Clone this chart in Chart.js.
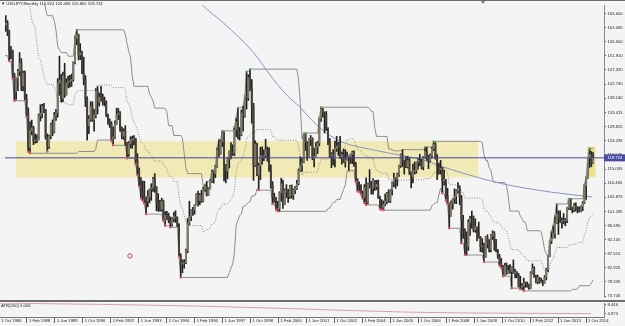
<!DOCTYPE html>
<html lang="en">
<head>
<meta charset="UTF-8">
<title>USDJPY, Monthly</title>
<script src="https://cdn.jsdelivr.net/npm/chart.js"></script>
<style>
  html, body { margin:0; padding:0; background:#f4f4f4; }
  #wrap { position:relative; width:625px; height:326px; overflow:hidden; background:#f4f4f4; }
  canvas { position:absolute; left:0; }
  #mainChart { top:0; }
  #atrChart { top:302px; }
  .rule { position:absolute; left:0; width:625px; background:#6e6e6e; }
  .txt { position:absolute; white-space:nowrap; font:6px "Liberation Sans", "DejaVu Sans", sans-serif; color:#1e1e1e; transform:scale(0.7); transform-origin:0 0; }
  #shift { position:absolute; left:481px; top:1px; width:0; height:0; border-left:2.5px solid transparent; border-right:2.5px solid transparent; border-top:3px solid #7a7a7a; }
</style>
</head>
<body>
<div id="wrap">
  <canvas id="mainChart" width="625" height="302"></canvas>
  <canvas id="atrChart" width="625" height="24"></canvas>
  <div class="rule" style="top:0;height:1px"></div>
  <div class="rule" style="top:300px;height:2px"></div>
  <div id="shift"></div>
  <div class="txt" id="head" style="left:1px;top:1px"></div>
  <div class="txt" id="atrHead" style="left:1px;top:303px"></div>
</div>
<script>
// monthly USDJPY bars, index 0 = Oct 1986 ... 340 = Feb 2015
const opens = [
  154.0, 162.0, 162.6,
  160.1, 153.5, 153.4, 145.8, 140.3, 144.5, 146.9, 149.5, 142.2, 146.3, 138.0, 133.0,
  122.0, 127.5, 128.5, 124.2, 124.5, 124.6, 132.4, 133.2, 135.5, 134.4, 125.4, 122.4,
  125.8, 129.6, 127.0, 132.5, 133.4, 143.0, 144.0, 138.0, 145.5, 139.3, 143.0, 143.6,
  143.8, 144.2, 149.8, 157.6, 158.8, 152.2, 152.9, 146.3, 144.1, 137.9, 129.2, 131.3,
  135.4, 131.1, 132.5, 140.5, 136.9, 138.5, 138.2, 137.2, 136.9, 132.8, 130.5, 129.8,
  124.9, 125.5, 129.8, 132.8, 133.3, 128.3, 125.8, 127.3, 123.3, 120.0, 123.4, 124.4,
  124.8, 124.9, 117.8, 114.9, 111.2, 107.3, 106.5, 104.8, 104.6, 106.1, 108.6, 109.0,
  111.9, 109.1, 104.0, 102.7, 102.0, 104.5, 98.6, 100.0, 99.8, 98.5, 97.1, 98.9,
  99.7, 99.0, 97.0, 86.6, 84.2, 84.5, 84.6, 88.5, 97.5, 99.7, 101.8, 101.7,
  103.4, 107.0, 104.8, 106.5, 104.7, 108.5, 109.5, 106.8, 108.6, 111.4, 114.2, 113.6,
  115.9, 121.3, 120.2, 124.0, 126.9, 116.4, 114.5, 118.5, 120.9, 120.6, 120.3, 127.9,
  130.5, 127.1, 126.3, 133.3, 132.3, 138.7, 138.2, 144.8, 141.5, 135.7, 116.3, 123.2,
  113.1, 116.2, 119.5, 118.9, 119.4, 121.3, 121.0, 114.7, 109.7, 106.1, 104.5, 102.0,
  102.2, 107.3, 110.3, 103.6, 108.2, 107.6, 106.2, 109.5, 106.6, 108.2, 108.8, 110.3,
  114.6, 116.3, 117.3, 126.3, 123.6, 118.8, 124.7, 125.0, 118.7, 119.3, 122.3, 123.5,
  131.6, 134.7, 133.3, 132.7, 128.4, 124.2, 119.3, 119.8, 118.4, 121.8, 122.5, 122.6,
  118.8, 119.8, 117.6, 118.1, 119.0, 119.2, 119.8, 120.5, 116.7, 111.5, 110.0, 109.6,
  107.2, 105.9, 109.1, 104.2, 110.4, 109.4, 108.9, 111.4, 109.3, 110.1, 105.8, 103.1,
  102.6, 103.6, 104.6, 107.2, 104.8, 108.2, 110.8, 112.3, 111.7, 113.3, 116.2, 119.7,
  117.9, 117.2, 115.8, 117.8, 113.8, 112.5, 114.4, 114.6, 117.4, 118.0, 116.9, 115.8,
  119.0, 120.7, 118.6, 117.8, 119.5, 121.7, 123.2, 118.6, 115.8, 114.9, 115.3, 111.2,
  111.7, 106.4, 103.8, 99.7, 103.9, 105.5, 106.2, 108.0, 108.8, 106.0, 98.5, 95.5,
  90.7, 89.9, 97.6, 98.9, 98.6, 95.3, 96.3, 94.7, 93.0, 89.8, 90.0, 86.3,
  93.0, 90.3, 88.9, 93.5, 94.1, 91.2, 88.4, 86.4, 84.2, 83.5, 80.4, 83.6,
  81.1, 82.0, 81.8, 83.1, 81.2, 81.5, 80.5, 76.7, 76.6, 77.0, 78.0, 77.6,
  76.9, 76.2, 81.2, 82.9, 80.0, 78.3, 79.8, 78.1, 78.4, 77.9, 79.8, 82.4,
  86.7, 91.7, 92.6, 94.2, 97.5, 100.4, 99.1, 97.9, 98.2, 98.3, 98.4, 102.4,
  105.3, 102.0, 101.8, 103.2, 102.2, 101.8, 101.3, 102.8, 104.1, 109.6, 112.3, 118.6,
  119.8, 116.924
];
const highs = [
  163.0, 165.0, 163.4,
  160.3, 155.0, 153.8, 146.3, 144.7, 147.5, 153.0, 151.0, 147.0, 147.0, 139.4, 135.0,
  130.5, 131.0, 129.0, 126.5, 126.2, 133.0, 136.0, 136.1, 136.5, 134.5, 126.5, 126.1,
  130.0, 131.1, 133.5, 134.5, 144.5, 151.8, 145.9, 146.6, 149.5, 144.5, 145.3, 145.6,
  146.0, 150.0, 158.4, 160.4, 159.0, 155.9, 153.5, 151.5, 145.5, 138.6, 132.5, 137.0,
  137.0, 134.5, 141.3, 141.9, 139.8, 142.0, 139.5, 138.5, 137.3, 133.0, 131.4, 130.5,
  128.8, 130.8, 134.9, 134.8, 133.8, 128.8, 128.2, 129.2, 123.8, 124.0, 125.6, 125.8,
  126.0, 125.1, 120.1, 115.5, 112.4, 111.2, 111.1, 106.0, 108.1, 108.6, 110.3, 112.4,
  113.6, 109.4, 107.1, 104.9, 105.6, 105.0, 101.2, 101.3, 100.7, 99.5, 99.3, 101.0,
  101.5, 99.5, 97.3, 87.5, 85.5, 85.6, 89.0, 99.0, 104.6, 101.9, 102.6, 103.5,
  107.1, 107.9, 107.1, 108.2, 109.2, 109.9, 111.0, 109.0, 111.7, 114.7, 114.4, 116.2,
  122.0, 124.7, 124.5, 127.5, 127.2, 116.6, 118.8, 121.0, 123.7, 123.0, 128.8, 131.7,
  135.0, 128.6, 134.3, 135.6, 139.0, 146.8, 145.8, 147.6, 144.2, 136.5, 124.3, 123.5,
  117.0, 122.2, 122.3, 121.3, 124.8, 122.3, 122.0, 116.4, 111.0, 107.2, 105.9, 104.6,
  107.7, 112.1, 111.5, 108.6, 110.0, 108.5, 109.8, 109.9, 108.6, 109.4, 111.4, 115.1,
  119.1, 118.7, 126.6, 126.8, 124.0, 125.0, 126.0, 125.3, 121.9, 123.7, 124.1, 131.8,
  135.2, 134.8, 133.7, 133.8, 128.5, 125.0, 120.4, 121.4, 124.2, 125.7, 123.8, 125.7,
  120.6, 121.6, 121.4, 120.6, 119.4, 120.0, 120.9, 121.0, 117.3, 112.0, 110.9, 110.0,
  107.9, 110.0, 112.2, 110.5, 114.9, 111.1, 112.0, 111.4, 111.4, 111.5, 106.3, 105.1,
  104.7, 107.0, 107.5, 108.3, 108.4, 110.9, 113.8, 112.3, 113.8, 116.4, 120.0, 121.4,
  118.0, 119.1, 119.2, 118.7, 114.2, 116.7, 117.4, 117.4, 118.4, 119.9, 118.3, 119.2,
  122.2, 122.2, 119.6, 120.0, 122.2, 124.1, 123.7, 119.8, 117.0, 117.9, 115.6, 114.7,
  111.7, 108.8, 104.0, 104.7, 105.5, 108.6, 108.4, 110.7, 109.6, 106.5, 100.0, 95.6,
  94.6, 98.6, 99.7, 101.4, 99.8, 98.9, 96.0, 97.8, 93.1, 92.4, 91.0, 93.1,
  93.7, 92.1, 93.8, 95.0, 94.7, 92.2, 88.9, 87.3, 86.0, 83.7, 84.4, 84.5,
  83.7, 84.0, 83.3, 85.5, 82.4, 81.7, 81.1, 80.2, 77.9, 79.6, 78.3, 78.3,
  77.6, 81.7, 84.2, 83.3, 80.6, 80.6, 79.8, 79.6, 78.9, 80.4, 82.8, 86.8,
  91.8, 94.8, 96.7, 99.9, 103.7, 101.5, 101.5, 99.2, 100.6, 99.0, 102.5, 105.4,
  105.4, 102.7, 103.8, 104.1, 102.8, 102.8, 103.1, 104.5, 110.1, 112.5, 118.9, 121.8,
  120.8, 120.466
];
const lows = [
  153.5, 159.9, 158.5,
  150.2, 151.0, 144.5, 137.3, 137.7, 140.6, 145.5, 140.6, 140.5, 137.6, 132.0, 120.7,
  120.2, 126.2, 123.0, 123.5, 123.7, 124.5, 130.7, 131.7, 133.4, 124.8, 120.8, 121.8,
  124.9, 125.9, 126.8, 130.9, 132.0, 139.1, 136.9, 137.0, 138.4, 139.1, 141.5, 141.7,
  142.0, 143.7, 149.3, 155.5, 150.6, 150.7, 146.1, 142.5, 135.4, 124.5, 126.6, 130.6,
  130.6, 127.4, 131.7, 133.0, 135.6, 137.2, 135.9, 135.6, 132.1, 129.6, 128.6, 124.2,
  122.8, 125.0, 129.6, 131.2, 127.3, 124.9, 124.7, 122.8, 118.6, 119.2, 121.9, 121.8,
  122.9, 116.6, 113.1, 109.4, 105.5, 104.8, 103.8, 100.4, 102.8, 104.1, 104.9, 107.8,
  107.5, 101.5, 101.3, 101.4, 101.3, 98.2, 96.6, 98.6, 97.6, 96.1, 96.5, 97.9,
  97.7, 96.3, 86.5, 79.8, 81.3, 82.8, 84.3, 87.8, 96.9, 98.3, 100.0, 100.4,
  103.4, 103.0, 103.5, 104.2, 104.4, 107.8, 106.3, 106.5, 108.6, 110.7, 110.5, 112.3,
  115.6, 119.0, 119.9, 122.4, 111.2, 110.6, 111.9, 115.4, 118.4, 119.5, 119.4, 125.6,
  124.9, 124.5, 125.9, 127.4, 132.0, 134.6, 137.4, 140.6, 130.0, 111.4, 115.9, 112.9,
  108.2, 111.6, 116.7, 117.8, 118.8, 117.6, 114.3, 108.8, 103.7, 104.2, 101.8, 101.3,
  101.4, 104.6, 102.3, 103.5, 105.7, 104.2, 105.5, 105.6, 105.2, 107.1, 108.4, 109.9,
  114.3, 114.3, 117.1, 121.1, 117.9, 118.8, 122.7, 118.1, 115.8, 119.2, 120.1, 122.6,
  130.6, 131.9, 126.8, 127.6, 123.0, 118.8, 115.5, 116.4, 115.8, 120.8, 119.5, 118.5,
  116.7, 117.2, 115.7, 118.0, 114.6, 116.9, 116.8, 115.9, 110.9, 107.8, 107.6, 106.8,
  105.4, 104.0, 103.4, 103.7, 108.9, 106.9, 106.9, 108.1, 108.4, 105.5, 102.0, 101.8,
  101.7, 103.1, 103.7, 104.3, 104.1, 106.6, 109.3, 108.8, 109.6, 112.7, 115.6, 115.9,
  113.4, 115.5, 115.4, 113.3, 108.9, 110.6, 113.4, 113.7, 115.0, 116.2, 115.1, 114.8,
  118.6, 117.9, 115.2, 117.5, 118.7, 121.1, 118.3, 111.6, 113.4, 113.4, 107.2, 109.8,
  104.9, 103.7, 95.8, 99.7, 102.0, 103.9, 103.8, 107.2, 103.5, 90.9, 92.5, 87.1,
  87.1, 88.6, 93.5, 95.8, 94.6, 94.5, 91.7, 92.6, 88.2, 88.0, 84.8, 86.3,
  89.4, 88.1, 88.1, 92.1, 88.6, 88.1, 86.0, 83.6, 82.9, 80.2, 80.3, 80.8,
  81.0, 81.1, 76.3, 81.1, 79.6, 79.7, 76.7, 75.9, 75.9, 75.4, 76.6, 76.6,
  75.9, 76.1, 80.9, 79.8, 78.0, 77.7, 77.9, 78.0, 77.1, 77.9, 79.0, 81.7,
  86.6, 90.8, 92.6, 92.6, 97.3, 93.8, 97.6, 95.8, 97.2, 96.6, 97.6, 101.9,
  101.8, 100.8, 101.2, 101.4, 100.8, 101.1, 101.1, 101.5, 103.8, 105.2, 112.0, 115.6,
  115.9, 116.862
];
const closes = [
  162.0, 162.6, 160.1,
  153.5, 153.4, 145.8, 140.3, 144.5, 146.9, 149.5, 142.2, 146.3, 138.0, 133.0, 122.0,
  127.5, 128.5, 124.2, 124.5, 124.6, 132.4, 133.2, 135.5, 134.4, 125.4, 122.4, 125.8,
  129.6, 127.0, 132.5, 133.4, 143.0, 144.0, 138.0, 145.5, 139.3, 143.0, 143.6, 143.8,
  144.2, 149.8, 157.6, 158.8, 152.2, 152.9, 146.3, 144.1, 137.9, 129.2, 131.3, 135.4,
  131.1, 132.5, 140.5, 136.9, 138.5, 138.2, 137.2, 136.9, 132.8, 130.5, 129.8, 124.9,
  125.5, 129.8, 132.8, 133.3, 128.3, 125.8, 127.3, 123.3, 120.0, 123.4, 124.4, 124.8,
  124.9, 117.8, 114.9, 111.2, 107.3, 106.5, 104.8, 104.6, 106.1, 108.6, 109.0, 111.9,
  109.1, 104.0, 102.7, 102.0, 104.5, 98.6, 100.0, 99.8, 98.5, 97.1, 98.9, 99.7,
  99.0, 97.0, 86.6, 84.2, 84.5, 84.6, 88.5, 97.5, 99.7, 101.8, 101.7, 103.4,
  107.0, 104.8, 106.5, 104.7, 108.5, 109.5, 106.8, 108.6, 111.4, 114.2, 113.6, 115.9,
  121.3, 120.2, 124.0, 126.9, 116.4, 114.5, 118.5, 120.9, 120.6, 120.3, 127.9, 130.5,
  127.1, 126.3, 133.3, 132.3, 138.7, 138.2, 144.8, 141.5, 135.7, 116.3, 123.2, 113.1,
  116.2, 119.5, 118.9, 119.4, 121.3, 121.0, 114.7, 109.7, 106.1, 104.5, 102.0, 102.2,
  107.3, 110.3, 103.6, 108.2, 107.6, 106.2, 109.5, 106.6, 108.2, 108.8, 110.3, 114.6,
  116.3, 117.3, 126.3, 123.6, 118.8, 124.7, 125.0, 118.7, 119.3, 122.3, 123.5, 131.6,
  134.7, 133.3, 132.7, 128.4, 124.2, 119.3, 119.8, 118.4, 121.8, 122.5, 122.6, 118.8,
  119.8, 117.6, 118.1, 119.0, 119.2, 119.8, 120.5, 116.7, 111.5, 110.0, 109.6, 107.2,
  105.9, 109.1, 104.2, 110.4, 109.4, 108.9, 111.4, 109.3, 110.1, 105.8, 103.1, 102.6,
  103.6, 104.6, 107.2, 104.8, 108.2, 110.8, 112.3, 111.7, 113.3, 116.2, 119.7, 117.9,
  117.2, 115.8, 117.8, 113.8, 112.5, 114.4, 114.6, 117.4, 118.0, 116.9, 115.8, 119.0,
  120.7, 118.6, 117.8, 119.5, 121.7, 123.2, 118.6, 115.8, 114.9, 115.3, 111.2, 111.7,
  106.4, 103.8, 99.7, 103.9, 105.5, 106.2, 108.0, 108.8, 106.0, 98.5, 95.5, 90.7,
  89.9, 97.6, 98.9, 98.6, 95.3, 96.3, 94.7, 93.0, 89.8, 90.0, 86.3, 93.0,
  90.3, 88.9, 93.5, 94.1, 91.2, 88.4, 86.4, 84.2, 83.5, 80.4, 83.6, 81.1,
  82.0, 81.8, 83.1, 81.2, 81.5, 80.5, 76.7, 76.6, 77.0, 78.0, 77.6, 76.9,
  76.2, 81.2, 82.9, 80.0, 78.3, 79.8, 78.1, 78.4, 77.9, 79.8, 82.4, 86.7,
  91.7, 92.6, 94.2, 97.5, 100.4, 99.1, 97.9, 98.2, 98.3, 98.4, 102.4, 105.3,
  102.0, 101.8, 103.2, 102.2, 101.8, 101.3, 102.8, 104.1, 109.6, 112.3, 118.6, 119.8,
  116.924, 118.724
];

// channel lines: [bar index, price]
const upperBand = [
  [20,182],[22,176],[23,171],[24,167],[25,165],[28,165],[29,163.4],[30,160.3],[31,155.0],[32,153.8],
  [33,153.0],[36,153.0],[37,151.8],[40,151.8],[41,158.4],[42,160.4],[69,160.4],[70,159.0],[71,155.9],
  [72,153.5],[73,151.5],[74,145.5],[75,142.0],[83,142.0],[84,139.5],[85,138.5],[86,137.3],[87,134.9],
  [92,134.9],[93,134.8],[94,133.8],[95,129.2],[97,129.2],[98,126.0],[102,126.0],[103,125.1],[104,120.1],
  [105,115.5],[106,113.6],[114,113.6],[115,109.4],[116,109.9],[117,111.0],[118,111.0],[119,111.7],
  [120,114.7],[121,114.7],[122,116.2],[123,122.0],[124,124.7],[125,124.7],[126,127.5],[132,127.5],
  [133,128.8],[134,131.7],[135,135.0],[137,135.0],[138,135.6],[139,139.0],[140,146.8],[141,146.8],
  [142,147.6],[169,147.6],[170,144.2],[171,136.5],[172,124.8],[173,126.6],[174,126.8],[181,126.8],
  [182,131.8],[183,135.2],[210,135.2],[211,134.8],[212,133.8],[213,133.8],[214,128.5],[215,125.7],
  [221,125.7],[222,121.6],[223,121.6],[224,121.4],[225,121.0],[229,121.0],[230,121.4],[242,121.4],
  [243,122.2],[247,122.2],[248,124.1],[275,124.1],[276,123.7],[277,119.8],[278,117.9],[279,117.9],
  [280,115.6],[281,114.7],[282,111.7],[283,110.7],[289,110.7],[290,109.6],[291,106.5],[292,101.4],
  [297,101.4],[298,99.8],[299,98.9],[300,97.8],[301,97.8],[302,95.0],[309,95.0],[310,94.7],[311,92.2],
  [312,88.9],[313,87.3],[314,86.8],[315,91.8],[316,94.8],[317,96.7],[318,99.9],[319,103.7],[325,103.7],
  [326,105.4],[334,105.4],[335,110.1],[336,112.5],[337,118.9],[338,121.8],[340,121.8]
];
const lowerBand = [
  [0,152.0],[2,152.0],[3,150.2],[4,150.2],[5,144.5],[6,137.3],[12,137.3],[13,132.0],[14,120.7],
  [15,120.2],[42,120.2],[43,120.8],[52,120.8],[53,121.8],[54,124.5],[61,124.5],[62,124.2],[63,122.8],
  [70,122.8],[71,118.6],[75,118.6],[76,116.6],[77,113.1],[78,109.4],[79,105.5],[80,104.8],[81,103.8],
  [82,100.4],[91,100.4],[92,98.2],[93,96.6],[95,96.6],[96,96.1],[100,96.1],[101,86.5],[102,79.8],
  [129,79.8],[130,81.3],[131,82.8],[132,84.3],[133,87.8],[134,96.9],[135,98.3],[136,100.0],[137,100.4],
  [138,103.0],[139,103.0],[140,103.5],[141,104.2],[142,104.4],[143,106.3],[144,106.3],[145,106.5],
  [146,108.6],[147,108.2],[154,108.2],[155,103.7],[156,103.7],[157,101.8],[158,101.3],[185,101.3],
  [186,101.4],[187,102.3],[188,102.3],[189,103.5],[190,104.2],[191,104.2],[192,105.2],[194,105.2],
  [195,107.1],[196,108.4],[197,109.9],[198,114.3],[199,114.3],[200,114.6],[202,114.6],[203,110.9],
  [204,107.8],[205,107.6],[206,106.8],[207,105.4],[208,104.0],[209,103.4],[216,103.4],[217,102.0],
  [218,101.8],[219,101.7],[246,101.7],[247,103.1],[248,103.7],[249,104.1],[250,104.1],[251,106.6],
  [252,108.9],[253,107.2],[254,107.2],[255,104.9],[256,103.7],[257,95.8],[263,95.8],[264,90.9],
  [265,90.9],[266,87.1],[276,87.1],[277,84.8],[285,84.8],[286,83.6],[287,82.9],[288,80.2],[292,80.2],
  [293,76.3],[297,76.3],[298,75.9],[299,75.9],[300,75.4],[327,75.4],[328,75.9],[330,75.9],[331,76.1],
  [332,77.1],[338,77.1],[339,77.9],[340,79.0]
];
const midBand = [
  [15,168.1],[16,163.6],[17,162.1],[18,161.1],[19,156.1],[20,151.1],[21,150.6],[22,148.1],[23,145.6],
  [24,143.6],[25,142.6],[28,142.6],[29,141.8],[30,140.25],[31,137.6],[32,137.0],[33,136.6],[36,136.6],
  [37,136.0],[40,136.0],[41,139.3],[42,140.3],[43,140.6],[52,140.6],[53,141.1],[54,142.45],[61,142.45],
  [62,142.3],[63,141.6],[69,141.6],[70,140.9],[71,137.25],[72,136.05],[73,135.05],[74,132.05],[75,130.3],
  [76,129.3],[77,127.55],[78,125.7],[79,123.75],[80,123.4],[81,122.9],[82,121.2],[83,121.2],[84,119.95],
  [85,119.45],[86,118.85],[87,117.65],[91,117.65],[92,116.55],[93,115.7],[94,115.2],[95,112.9],
  [96,112.65],[97,112.65],[98,111.05],[100,111.05],[101,106.25],[102,102.9],[103,102.45],[104,99.95],
  [105,97.65],[106,96.7],[114,96.7],[115,94.6],[116,94.85],[117,95.4],[118,95.4],[119,95.75],[120,97.25],
  [121,97.25],[122,98.0],[123,100.9],[124,102.25],[125,102.25],[126,103.65],[129,103.65],[130,104.4],
  [131,105.15],[132,105.9],[133,108.3],[134,114.3],[135,116.65],[136,117.5],[137,117.7],[138,119.3],
  [139,121.0],[140,125.15],[141,125.5],[142,126.0],[143,126.95],[144,126.95],[145,127.05],[146,128.1],
  [147,127.9],[154,127.9],[155,125.65],[156,125.65],[157,124.7],[158,124.45],[169,124.45],[170,122.75],
  [171,118.9],[172,113.05],[173,113.95],[174,114.05],[181,114.05],[182,116.55],[183,118.25],[185,118.25],
  [186,118.3],[187,118.75],[188,118.75],[189,119.35],[190,119.7],[191,119.7],[192,120.2],[194,120.2],
  [195,121.15],[196,121.8],[197,122.55],[198,124.75],[199,124.75],[200,124.9],[202,124.9],[203,123.05],
  [204,121.5],[205,121.4],[206,121.0],[207,120.3],[208,119.6],[209,119.3],[210,119.3],[211,119.1],
  [212,118.6],[213,118.6],[214,115.95],[215,114.55],[216,114.55],[217,113.85],[218,113.75],[219,113.7],
  [221,113.7],[222,111.65],[223,111.65],[224,111.55],[225,111.35],[229,111.35],[230,111.55],[242,111.55],
  [243,111.95],[246,111.95],[247,112.65],[248,113.9],[249,114.1],[250,114.1],[251,115.35],[252,116.5],
  [253,115.65],[254,115.65],[255,114.5],[256,113.9],[257,109.95],[263,109.95],[264,107.5],[265,107.5],
  [266,105.6],[275,105.6],[276,105.4],[277,102.3],[278,101.35],[279,101.35],[280,100.2],[281,99.75],
  [282,98.25],[283,97.75],[285,97.75],[286,97.15],[287,96.8],[288,95.45],[289,95.45],[290,94.9],
  [291,93.35],[292,90.8],[293,88.85],[297,88.85],[298,87.85],[299,87.4],[300,86.6],[301,86.6],[302,85.2],
  [309,85.2],[310,85.05],[311,83.8],[312,82.15],[313,81.35],[314,81.1],[315,83.6],[316,85.1],[317,86.05],
  [318,87.65],[319,89.55],[325,89.55],[326,90.4],[327,90.4],[328,90.65],[330,90.65],[331,90.75],
  [332,91.25],[334,91.25],[335,93.6],[336,94.8],[337,98.0],[338,99.45],[339,99.85],[340,100.4]
];
const maLine = [
  [112,170.2],[115,168.2],[126.5,162.7],[143.7,153.2],[153.4,145.8],[162.6,139.5],[171.2,135.0],
  [178,130.8],[187.8,126.1],[196.9,123.5],[210.6,121.6],[222.1,120.3],[241,118.1],[258.2,114.9],
  [286.8,110.4],[315.4,107.6],[339.4,106.0]
];
const atrLine = [[0.6,9.2],[57,8.7],[114,8.0],[172,6.9],[235,5.6],[286,5.2],[339,5.006]];
const atrValue = 5.006;

// breakout marks (bar indices) and the small red circle
const lowMarks = [3,5,6,13,14,15,25,62,63,71,76,77,78,79,80,81,82,92,93,96,101,102,147,155,157,158,
  203,204,205,206,207,208,209,217,218,219,253,255,256,257,264,266,277,286,287,288,293,298,300];
const highMarks = [41,42,123,124,126,133,134,135,139,140,142,173,174,182,183,243,248,315,316,317,318,319,326,335,336,337,338];
const circleMark = [72.7, 86.8];

// highlighted zones: [from bar, to bar] and [low price, high price]
const bandBars = [6.9, 273.6], bandPrices = [112.35, 124.15];
const boxBars = [336.5, 341.5], boxPrices = [112.6, 122.3];

const yTicks = [165.6, 161.09, 156.5, 151.91, 147.32, 142.73, 138.14, 133.415, 128.825, 124.235, 119.645,
  115.055, 110.465, 105.875, 101.285, 96.695, 92.105, 87.515, 82.925, 78.335, 73.745];
const atrTicks = [8.446, 4.873];
const xTickBars = [0,16,32,48,64,80,96,112,128,144,160,176,192,208,224,240,256,272,288,304,320,336];
const xTickLabels = ['1 Oct 1986','1 Feb 1988','1 Jun 1989','1 Oct 1990','1 Feb 1992','1 Jun 1993',
  '1 Oct 1994','1 Feb 1996','1 Jun 1997','1 Oct 1998','1 Feb 2000','1 Jun 2001','1 Oct 2002',
  '1 Feb 2004','1 Jun 2005','1 Oct 2006','1 Feb 2008','1 Jun 2009','1 Oct 2010','1 Feb 2012',
  '1 Jun 2013','1 Oct 2014'];

const FONT = '"Liberation Sans", "DejaVu Sans", sans-serif';
const X_MIN = 0.57, X_MAX = 346.3;
const last = closes.length - 1;

document.getElementById('head').textContent = '\u25BC USDJPY,Monthly  ' +
  [opens[last], highs[last], lows[last], closes[last]].map(v => v.toFixed(3)).join(' ');
document.getElementById('atrHead').textContent = 'ATR(200) ' + atrValue.toFixed(3);

const pts = arr => arr.map(p => ({x: p[0], y: p[1]}));
const wicks = highs.map((h, i) => ({x: i, y: [lows[i], h]}));
const upBodies = [], downBodies = [];
opens.forEach((o, i) => {
  (closes[i] >= o ? upBodies : downBodies).push({x: i, y: [o, closes[i]]});
});

const flat = {pointRadius: 0, borderWidth: 1, tension: 0, type: 'line'};

const priceTag = {
  id: 'priceTag',
  afterDraw(chart) {
    const {ctx, chartArea} = chart;
    const py = chart.scales.y.getPixelForValue(closes[last]);
    ctx.save();
    ctx.fillStyle = '#4a4aa2';
    ctx.fillRect(chartArea.right, py - 3.5, 21, 7);
    ctx.fillStyle = '#ffffff';
    ctx.font = '4.2px ' + FONT;
    ctx.textBaseline = 'middle';
    ctx.fillText(closes[last].toFixed(3), chartArea.right + 3.5, py);
    ctx.restore();
  }
};

new Chart(document.getElementById('mainChart'), {
  type: 'bar',
  data: {
    datasets: [
      {...flat, data: [{x: bandBars[0], y: bandPrices[1]}, {x: bandBars[1], y: bandPrices[1]}],
        fill: {value: bandPrices[0]}, backgroundColor: 'rgba(240,228,140,0.62)', borderWidth: 0, order: 10},
      {...flat, data: [{x: boxBars[0], y: boxPrices[1]}, {x: boxBars[1], y: boxPrices[1]}],
        fill: {value: boxPrices[0]}, backgroundColor: 'rgba(236,218,105,0.75)', borderWidth: 0, order: 10},
      {...flat, data: pts(upperBand), borderColor: '#8e8e8e', order: 8},
      {...flat, data: pts(lowerBand), borderColor: '#8e8e8e', order: 8},
      {...flat, data: pts(midBand), borderColor: '#8a8a8a', borderDash: [1, 1.5], order: 8},
      {...flat, data: pts(maLine), borderColor: '#8696c0', tension: 0.4, cubicInterpolationMode: 'monotone', order: 7},
      {type: 'bar', data: wicks, grouped: false, barThickness: 1, maxBarThickness: 1, borderWidth: 0,
        backgroundColor: '#222222', order: 5},
      {type: 'bar', data: upBodies, grouped: false, barThickness: 1.3, maxBarThickness: 1.3, borderWidth: 0,
        backgroundColor: '#7a7c68', order: 4},
      {type: 'bar', data: downBodies, grouped: false, barThickness: 1.3, maxBarThickness: 1.3, borderWidth: 0,
        backgroundColor: '#4a3d37', order: 4},
      {...flat, data: [{x: X_MIN, y: closes[last]}, {x: X_MAX, y: closes[last]}], borderColor: '#4646a0', order: 3},
      {type: 'scatter', data: lowMarks.map(i => ({x: i, y: lows[i]})), pointRadius: 1.2, borderWidth: 0,
        backgroundColor: '#e25a66', order: 2},
      {type: 'scatter', data: highMarks.map(i => ({x: i, y: highs[i]})), pointRadius: 1.1, borderWidth: 0,
        backgroundColor: '#5aa85e', order: 2},
      {type: 'scatter', data: [{x: circleMark[0], y: circleMark[1]}], pointRadius: 2.2, borderWidth: 1,
        borderColor: '#d04848', backgroundColor: 'rgba(0,0,0,0)', order: 2}
    ]
  },
  options: {
    responsive: false,
    animation: false,
    layout: {padding: {top: 2, bottom: 2, left: 0, right: 0}},
    plugins: {legend: {display: false}, tooltip: {enabled: false}},
    scales: {
      x: {type: 'linear', min: X_MIN, max: X_MAX, display: false, offset: false},
      y: {
        type: 'linear', position: 'right', min: 73.43, max: 168.47, beginAtZero: false,
        afterBuildTicks: s => { s.ticks = yTicks.map(v => ({value: v})); },
        afterFit: s => { s.width = 21; s.paddingTop = 0; s.paddingBottom = 0; },
        ticks: {autoSkip: false, padding: 1.5, color: '#1e1e1e', font: {family: FONT, size: 4.2},
          callback: v => v.toFixed(3)},
        grid: {drawOnChartArea: false, drawTicks: true, tickLength: 2, color: '#555'},
        border: {display: true, color: '#8a8a8a'}
      }
    }
  },
  plugins: [priceTag]
});

new Chart(document.getElementById('atrChart'), {
  type: 'line',
  data: {datasets: [{data: pts(atrLine), borderColor: '#d99db5', borderWidth: 1, pointRadius: 0,
    tension: 0.4, cubicInterpolationMode: 'monotone'}]},
  options: {
    responsive: false,
    animation: false,
    layout: {padding: {top: 1, bottom: 0, left: 0, right: 0}},
    plugins: {legend: {display: false}, tooltip: {enabled: false}},
    scales: {
      x: {
        type: 'linear', min: X_MIN, max: X_MAX, position: 'bottom', offset: false,
        afterBuildTicks: s => { s.ticks = xTickBars.map(v => ({value: v})); },
        afterFit: s => { s.height = 9; s.paddingLeft = 0; s.paddingRight = 0; },
        ticks: {autoSkip: false, maxRotation: 0, minRotation: 0, align: 'start', labelOffset: 2, padding: -4.5,
          color: '#1e1e1e', font: {family: FONT, size: 4.2}, callback: (v, i) => xTickLabels[i]},
        grid: {drawOnChartArea: false, drawTicks: true, tickLength: 6, color: '#666'},
        border: {display: true, color: '#777'}
      },
      y: {
        type: 'linear', position: 'right', min: 3.68, max: 9.24,
        afterBuildTicks: s => { s.ticks = atrTicks.map(v => ({value: v})); },
        afterFit: s => { s.width = 21; s.paddingTop = 0; s.paddingBottom = 0; },
        ticks: {autoSkip: false, padding: 1.5, color: '#1e1e1e', font: {family: FONT, size: 4.2},
          callback: v => v.toFixed(3)},
        grid: {drawOnChartArea: false, drawTicks: true, tickLength: 2, color: '#555'},
        border: {display: true, color: '#8a8a8a'}
      }
    }
  }
});
</script>
</body>
</html>
